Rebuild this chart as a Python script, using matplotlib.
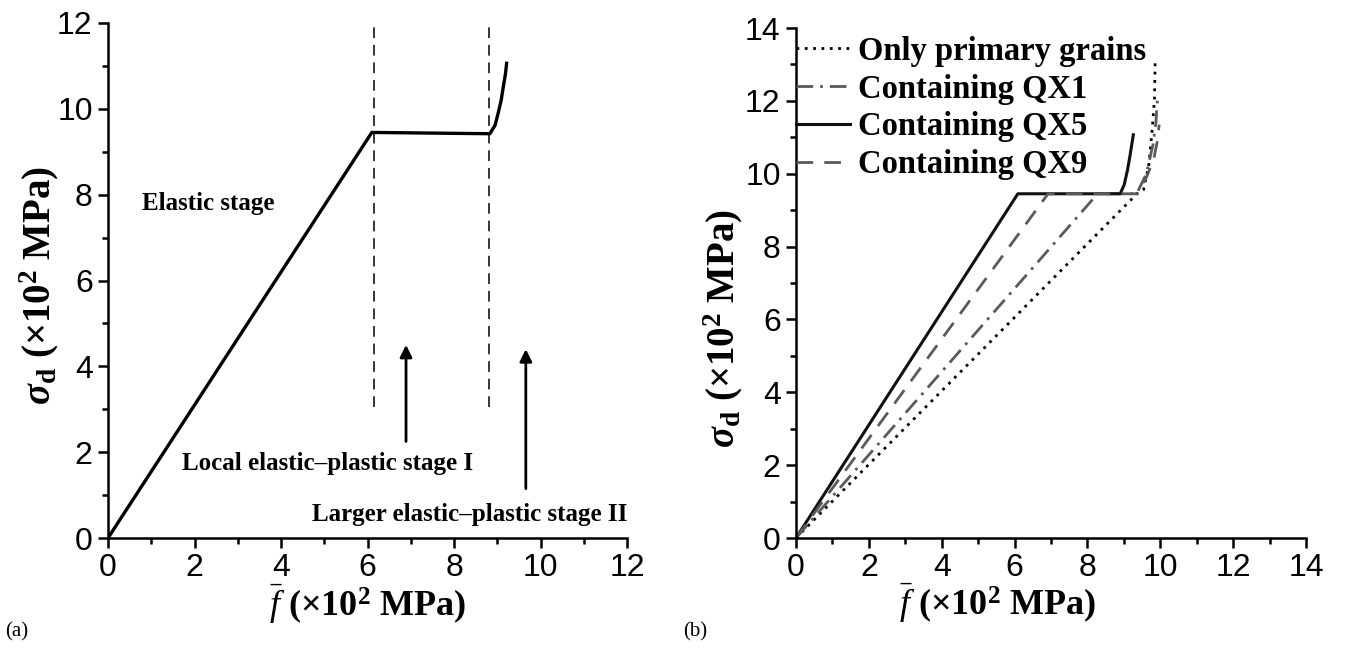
import numpy as np
import matplotlib
matplotlib.use('Agg')
import matplotlib.pyplot as plt
import matplotlib.ticker as ticker
from matplotlib.lines import Line2D

# plot configuration
plt.rcParams['font.family'] = 'Liberation Serif'
plt.rcParams['mathtext.fontset'] = 'custom'
plt.rcParams['mathtext.rm'] = 'Liberation Serif'
plt.rcParams['mathtext.it'] = 'Liberation Serif:italic'
plt.rcParams['mathtext.bf'] = 'Liberation Serif:bold'
plt.rcParams['mathtext.bfit'] = 'Liberation Serif:italic:bold'

tick_font = {'family': ['Liberation Sans'], 'size': 23}
xlabel_size = 26
ylabel_size = 28
note_size = 18
legend_size = 23.5

# ---- panel (a) data ----
a_x = [0.0, 6.10, 8.83, 8.95, 9.02, 9.09, 9.14, 9.19, 9.22]
a_y = [0.0, 9.45, 9.42, 9.62, 9.90, 10.20, 10.52, 10.82, 11.10]
a_bounds = [6.14, 8.80]       # stage boundaries (dashed)
a_bounds_y = [3.05, 11.95]
a_arrows_x = [6.89, 9.66]
a_arrows_y0 = [2.25, 1.15]
a_arrows_y1 = [4.50, 4.40]
a_notes = ['Elastic stage', 'Local elastic\u2013plastic stage I', 'Larger elastic\u2013plastic stage II']
a_notes_x = [0.79, 1.71, 4.72]
a_notes_y = [7.80, 1.74, 0.54]

# ---- panel (b) data ----
labels_b = ['Only primary grains', 'Containing QX1', 'Containing QX5', 'Containing QX9']
primary_x = [0.0, 9.36, 9.54, 9.68, 9.77, 9.84, 9.86]
primary_y = [0.0, 9.45, 9.56, 10.20, 11.12, 12.03, 13.09]
qx1_x = [0.0, 8.28, 9.35, 9.62, 9.80, 9.88, 9.93]
qx1_y = [0.0, 9.45, 9.45, 10.00, 10.80, 11.40, 12.15]
qx5_x = [0.0, 6.09, 8.90, 9.01, 9.10, 9.17, 9.26]
qx5_y = [0.0, 9.45, 9.45, 9.70, 10.10, 10.50, 11.07]
qx9_x = [0.0, 6.92, 9.35, 9.62, 9.82, 9.92, 9.97]
qx9_y = [0.0, 9.45, 9.45, 9.90, 10.40, 10.90, 11.35]

gray = '#5a5a5a'
styles_b = [
    dict(color='k', lw=2.0, linestyle=(0, (1, 2))),
    dict(color=gray, lw=2.0, linestyle=(0, (6, 2.5, 1, 2.5))),
    dict(color='#111111', lw=2.2, linestyle='-'),
    dict(color=gray, lw=2.0, linestyle=(0, (6, 4))),
]

fig = plt.figure(figsize=(13.45, 6.55), dpi=100)
ax1 = fig.add_axes([0.0803, 0.1786, 0.3859, 0.7863])
ax2 = fig.add_axes([0.5918, 0.1786, 0.3792, 0.7786])


def style_axes(ax, top):
    ax.set_xlim(0, top)
    ax.set_ylim(0, top)
    for s in ['top', 'right']:
        ax.spines[s].set_visible(False)
    for s in ['left', 'bottom']:
        ax.spines[s].set_linewidth(1.8)
    ax.xaxis.set_major_locator(ticker.MultipleLocator(2))
    ax.yaxis.set_major_locator(ticker.MultipleLocator(2))
    ax.xaxis.set_minor_locator(ticker.MultipleLocator(1))
    ax.yaxis.set_minor_locator(ticker.MultipleLocator(1))
    ax.tick_params(which='major', direction='out', length=7, width=1.8, pad=4)
    ax.tick_params(which='minor', direction='out', length=4, width=1.8)
    for lab in ax.get_xticklabels() + ax.get_yticklabels():
        lab.set_fontfamily(tick_font['family'])
        lab.set_fontsize(tick_font['size'])
    ax.set_xlabel(r'$\bar{f}$ (×$\mathbf{10^2}$ MPa)', fontsize=xlabel_size, fontweight='bold')
    ax.set_ylabel(r'$\boldsymbol{\sigma}_\mathbf{d}$ (×$\mathbf{10^2}$ MPa)', fontsize=ylabel_size, fontweight='bold')


# panel (a)
ax1.plot(a_x, a_y, color='k', lw=2.4, solid_capstyle='butt')
for bx in a_bounds:
    ax1.plot([bx, bx], a_bounds_y, color='k', lw=1.1, linestyle=(0, (7, 4.5)))
for x, y0, y1 in zip(a_arrows_x, a_arrows_y0, a_arrows_y1):
    ax1.annotate('', xy=(x, y1), xytext=(x, y0),
                 arrowprops=dict(arrowstyle='-|>', color='k', lw=2, mutation_scale=18, shrinkA=0, shrinkB=0))
for t, x, y in zip(a_notes, a_notes_x, a_notes_y):
    ax1.text(x, y, t, fontsize=note_size, fontweight='bold', ha='left', va='center')
style_axes(ax1, 12)
ax1.xaxis.set_label_coords(0.5, -0.085)
ax1.yaxis.set_label_coords(-0.09, 0.49)

# panel (b)
series = [(primary_x, primary_y), (qx1_x, qx1_y), (qx5_x, qx5_y), (qx9_x, qx9_y)]
for (x, y), st in zip(series, styles_b):
    ax2.plot(x, y, **st)
style_axes(ax2, 14)
ax2.xaxis.set_label_coords(0.396, -0.085)
ax2.yaxis.set_label_coords(-0.10, 0.41)

handles = [Line2D([], [], **st) for st in styles_b]
leg = ax2.legend(handles, labels_b, loc='upper left', bbox_to_anchor=(0.0, 0.985), frameon=False,
                 prop={'family': 'Liberation Serif', 'weight': 'bold', 'size': legend_size},
                 handlelength=1.65, handletextpad=0.25, labelspacing=0.21, borderaxespad=0.0, borderpad=0.0)

fig.text(0.004, 0.035, '(a)', fontsize=15, ha='left', va='center')
fig.text(0.508, 0.035, '(b)', fontsize=15, ha='left', va='center')

fig.savefig('out.png', dpi=100)
